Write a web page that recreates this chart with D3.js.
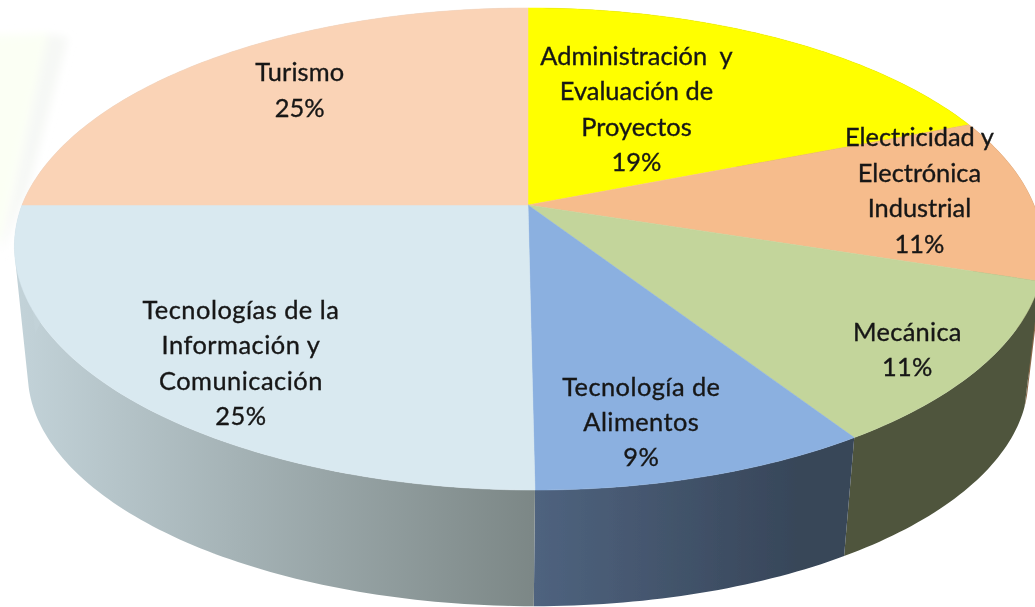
<!DOCTYPE html>
<html lang="es">
<head>
<meta charset="utf-8">
<script src="https://cdn.jsdelivr.net/npm/d3@7/dist/d3.min.js"></script>
<style>
html,body{margin:0;padding:0;background:#fff;overflow:hidden}
svg{display:block}
text{font-family:Lato,"Open Sans",sans-serif;fill:#161616;stroke:#161616;stroke-width:0.35;text-anchor:middle}
</style>
</head>
<body>
<svg id="chart" width="1035" height="607"></svg>
<script>
const categories = ["Administración  y|Evaluación de|Proyectos","Electricidad y|Electrónica|Industrial","Mecánica","Tecnología de|Alimentos","Tecnologías de la|Información y|Comunicación","Turismo"];
const shares = [19, 11, 11, 9, 25, 25];
const topColors = ["#ffff00","#f6bc8c","#c3d59b","#8bb0e0","#d9e9f0","#fad3b6"];
const wallStart = ["#8a8a00","#8a6a4c","#4f553d","#374659","#7c8786","#c2d2d8"];
const wallEnd = ["#8a8a00","#8a6a4c","#4f553d","#4f637f","#c2d2d8","#c2d2d8"];
const labelShift = [[-48,10],[89,-10],[120,53],[15,67],[-57,51],[-29,-23]];
const labelTracking = [0,0,0.3,0.45,0.5,0.1];

const svg = d3.select("#chart");
const defs = svg.append("defs");
defs.append("filter").attr("id","soft").attr("x","-5%").attr("y","-5%").attr("width","110%").attr("height","110%")
  .append("feGaussianBlur").attr("stdDeviation",0.45);
defs.append("filter").attr("id","haze").attr("x","-30%").attr("y","-30%").attr("width","160%").attr("height","160%")
  .append("feGaussianBlur").attr("stdDeviation",4);

// perspective of the disc
const cx = 528, cy = 205, rx = 506, ry = 233, persp = 0.1826, lean = 0.0245;
const project = (r, a) => {
  const u = r * Math.sin(a), v = -r * Math.cos(a), d = 1 - persp * v;
  const y = cy + ry * v / d;
  return [cx + rx * u / d + (v > 0 ? (y - cy) * lean : 0), y];
};
// rim of the underside: the same disc, slightly smaller and lower
const under = ([x, y]) => [527 + (x - cx) * 0.972, 376 + (y - 249) * 0.955];

const slices = d3.pie().sort(null).value(d => d)(shares);
const sweep = (a0, a1) => {
  const n = Math.max(2, Math.ceil((a1 - a0) * 60));
  return d3.range(n + 1).map(i => a0 + (a1 - a0) * i / n);
};
const line = d3.line();
const clockwise = pts => d3.polygonArea(pts) < 0 ? pts.slice().reverse() : pts;

// faint background smear at the upper left
const smear = svg.append("g").attr("filter","url(#haze)");
smear.append("path").attr("d", line([[-20,36],[48,34],[0,240],[-20,240]])).attr("fill","#fbfff4");
smear.append("path").attr("d", line([[48,34],[68,38],[28,190],[0,255]])).attr("fill","#f6f8f5");

const pie = svg.append("g").attr("filter","url(#soft)");

// walls: each wall is the sweep of its rim down to the underside
const walls = pie.append("g");
slices.forEach((s, i) => {
  const xA = under(project(1, s.startAngle))[0], xB = under(project(1, s.endAngle))[0];
  const grad = defs.append("linearGradient").attr("id","wall"+i)
    .attr("gradientUnits","userSpaceOnUse")
    .attr("x1", xA).attr("x2", i === 4 ? 22 : xB)
    .attr("y1",0).attr("y2",0);
  grad.append("stop").attr("offset",i === 3 ? 0.15 : 0).attr("stop-color",wallStart[i]);
  grad.append("stop").attr("offset",1).attr("stop-color",wallEnd[i]);
  const angles = sweep(s.startAngle, s.endAngle);
  const d = d3.pairs(angles).map(([a, b]) => {
    const p = project(1, a), q = project(1, b);
    return line(clockwise([p, q, under(q), under(p)])) + "Z";
  }).join("");
  walls.append("path").attr("d", d).attr("fill", `url(#wall${i})`);
});

// top face
pie.append("g").selectAll("path").data(slices).join("path")
  .attr("d", s => line([[cx, cy], ...sweep(s.startAngle, s.endAngle).map(a => project(1, a))]) + "Z")
  .attr("fill", (s, i) => topColors[i])
  .attr("stroke", (s, i) => topColors[i])
  .attr("stroke-width", 0.5);

// labels
const lineGap = 35.4, fontSize = 25.4;
const labels = svg.append("g").attr("filter","url(#soft)");
slices.forEach((s, i) => {
  const [x0, y0] = project(0.6, (s.startAngle + s.endAngle) / 2);
  const x = x0 + labelShift[i][0], y = y0 + labelShift[i][1];
  const rows = [...categories[i].split("|"), shares[i] + "%"];
  const t = labels.append("text").attr("font-size", fontSize)
    .attr("letter-spacing", labelTracking[i]).style("white-space","pre");
  rows.forEach((row, k) => {
    t.append("tspan").attr("x", x)
      .attr("y", y + (k - (rows.length - 1) / 2) * lineGap + fontSize * 0.35)
      .text(row);
  });
});
</script>
</body>
</html>
